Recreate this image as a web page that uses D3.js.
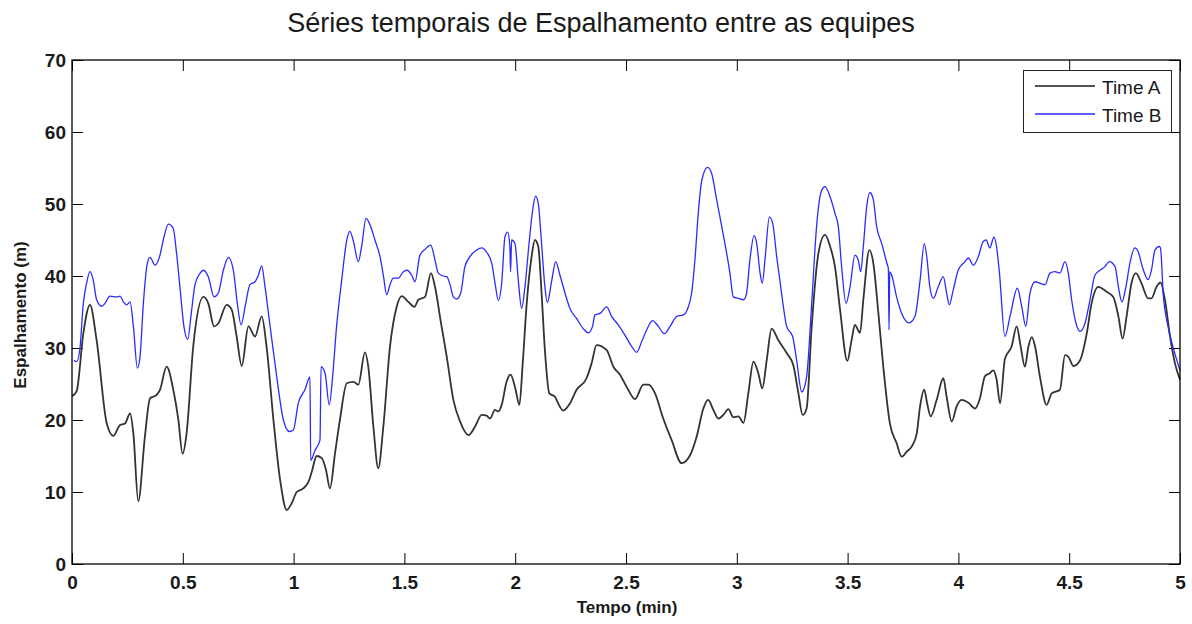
<!DOCTYPE html>
<html>
<head>
<meta charset="utf-8">
<script src="https://cdn.jsdelivr.net/npm/d3@7"></script>
<style>
  html, body { margin: 0; padding: 0; background: #fff; }
  svg { display: block; font-family: "Liberation Sans", Arial, sans-serif; }
</style>
</head>
<body>
<svg id="chart" width="1192" height="624"></svg>
<script>
// Time (min) and spread (m) samples for each team
const tempoA = [0.000,0.021,0.051,0.081,0.111,0.157,0.186,0.217,0.239,0.262,0.277,0.299,0.329,0.352,0.382,0.397,0.427,0.457,0.480,0.499,0.517,0.547,0.593,0.615,0.641,0.660,0.698,0.721,0.743,0.766,0.796,0.826,0.856,0.878,0.909,0.939,0.969,0.991,1.014,1.044,1.067,1.082,1.104,1.127,1.146,1.164,1.187,1.209,1.240,1.270,1.292,1.322,1.337,1.360,1.382,1.405,1.435,1.465,1.488,1.518,1.545,1.563,1.593,1.620,1.638,1.665,1.691,1.721,1.751,1.789,1.819,1.849,1.871,1.886,1.909,1.924,1.939,1.961,1.979,1.999,2.019,2.034,2.052,2.074,2.089,2.104,2.120,2.134,2.154,2.180,2.194,2.217,2.247,2.277,2.322,2.345,2.367,2.413,2.443,2.473,2.503,2.541,2.578,2.601,2.631,2.668,2.706,2.751,2.789,2.819,2.849,2.871,2.894,2.917,2.939,2.962,2.984,3.007,3.030,3.052,3.075,3.097,3.115,3.135,3.157,3.187,3.225,3.255,3.278,3.297,3.315,3.338,3.368,3.398,3.421,3.443,3.466,3.499,3.518,3.533,3.556,3.571,3.598,3.616,3.639,3.661,3.691,3.721,3.744,3.767,3.789,3.812,3.827,3.846,3.859,3.875,3.902,3.932,3.947,3.970,3.992,4.015,4.045,4.075,4.097,4.120,4.142,4.157,4.172,4.188,4.210,4.240,4.263,4.281,4.300,4.316,4.331,4.346,4.368,4.398,4.421,4.458,4.481,4.496,4.519,4.549,4.579,4.601,4.631,4.669,4.699,4.722,4.741,4.759,4.781,4.801,4.826,4.856,4.871,4.894,4.912,4.932,4.955,4.977,5.000];
const espalhamentoA = [23.3,24.0,32.0,36.0,31.1,19.5,17.8,19.3,19.5,20.9,18.1,8.7,17.7,23.0,23.5,24.2,27.4,24.2,20.0,15.3,18.1,30.2,37.1,36.2,33.0,33.4,36.0,35.3,31.6,27.5,33.0,31.6,34.4,30.2,20.0,11.7,7.5,8.4,10.0,10.5,11.4,12.8,15.0,14.7,13.1,10.5,15.4,20.0,25.1,25.3,24.9,29.4,27.4,19.1,13.3,19.1,30.2,35.7,37.2,36.4,35.7,36.7,37.1,40.4,38.5,33.5,28.8,22.8,19.8,17.9,19.1,20.7,20.6,20.2,21.4,21.2,22.1,25.3,26.3,24.6,22.1,27.9,36.2,42.7,45.0,44.1,37.1,29.7,23.7,23.2,22.3,21.3,22.3,24.2,25.8,27.9,30.4,29.7,27.4,26.3,24.6,22.9,24.9,24.9,23.7,20.2,17.2,14.0,15.1,17.7,21.6,22.8,21.4,20.2,20.7,21.5,20.4,20.5,19.6,23.7,28.1,26.5,24.4,28.3,32.7,31.1,29.3,27.6,23.7,20.7,21.6,33.0,43.1,45.7,44.1,41.3,35.3,28.2,31.1,33.2,32.1,36.7,43.6,41.8,34.8,27.4,19.5,16.8,14.9,15.6,16.3,18.1,21.9,24.2,22.3,20.5,22.8,25.8,23.2,19.8,21.9,22.8,22.4,21.6,23.0,26.1,26.5,26.9,25.7,22.3,28.5,30.2,33.0,30.2,27.4,30.2,31.5,30.2,26.0,22.1,23.7,24.2,29.0,28.8,27.5,28.3,32.0,36.2,38.5,37.8,37.1,34.4,31.3,34.4,39.0,40.4,39.0,36.9,36.9,38.5,39.1,36.7,31.6,27.9,25.6];

const tempoB = [0.009,0.021,0.036,0.051,0.066,0.081,0.096,0.111,0.134,0.149,0.171,0.202,0.217,0.232,0.247,0.262,0.277,0.295,0.307,0.322,0.340,0.352,0.375,0.397,0.412,0.435,0.457,0.472,0.487,0.505,0.522,0.540,0.555,0.578,0.593,0.615,0.641,0.660,0.683,0.706,0.728,0.748,0.763,0.781,0.803,0.826,0.841,0.856,0.871,0.894,0.924,0.954,0.981,0.999,1.021,1.051,1.074,1.077,1.097,1.119,1.124,1.142,1.161,1.176,1.194,1.217,1.240,1.254,1.270,1.292,1.307,1.327,1.345,1.367,1.390,1.405,1.420,1.435,1.450,1.473,1.495,1.513,1.533,1.548,1.570,1.593,1.619,1.638,1.653,1.675,1.691,1.706,1.721,1.736,1.754,1.773,1.796,1.826,1.849,1.871,1.894,1.909,1.924,1.939,1.954,1.966,1.976,1.979,1.984,1.999,2.014,2.029,2.044,2.064,2.079,2.092,2.104,2.119,2.134,2.145,2.165,2.183,2.202,2.225,2.247,2.277,2.307,2.330,2.349,2.360,2.383,2.413,2.435,2.465,2.495,2.526,2.548,2.571,2.593,2.620,2.646,2.673,2.699,2.729,2.759,2.781,2.796,2.811,2.826,2.842,2.868,2.886,2.909,2.932,2.954,2.969,2.984,3.007,3.030,3.044,3.059,3.078,3.090,3.105,3.115,3.127,3.147,3.162,3.180,3.202,3.225,3.252,3.270,3.293,3.315,3.338,3.360,3.383,3.398,3.421,3.443,3.458,3.473,3.493,3.511,3.533,3.548,3.559,3.571,3.586,3.601,3.616,3.631,3.654,3.677,3.684,3.687,3.690,3.699,3.721,3.744,3.778,3.804,3.827,3.846,3.859,3.871,3.887,3.909,3.932,3.947,3.959,3.977,3.999,4.030,4.045,4.067,4.090,4.112,4.125,4.142,4.160,4.172,4.185,4.210,4.233,4.266,4.286,4.304,4.323,4.346,4.368,4.391,4.413,4.436,4.458,4.481,4.496,4.511,4.531,4.549,4.571,4.594,4.616,4.639,4.661,4.681,4.707,4.722,4.738,4.756,4.774,4.796,4.811,4.830,4.856,4.871,4.887,4.906,4.912,4.924,4.946,4.968,5.000];
const espalhamentoB = [28.3,28.1,30.0,36.2,39.0,40.6,39.4,36.7,35.8,36.2,37.2,37.1,37.2,36.4,36.0,36.4,33.0,27.2,28.8,36.2,41.8,42.6,41.5,42.9,45.0,47.2,46.6,43.1,38.5,33.0,31.2,35.3,38.8,40.4,40.8,39.9,37.1,37.6,40.8,42.6,40.8,35.7,33.2,35.7,38.8,39.2,40.1,41.4,38.5,33.0,26.0,20.0,18.4,18.6,22.3,24.2,26.0,14.4,15.8,17.2,27.4,26.5,22.1,26.0,33.0,39.4,45.0,46.2,44.8,42.0,44.1,48.0,47.1,45.0,42.7,40.1,37.4,38.8,39.7,39.7,40.6,40.8,40.1,39.2,42.9,43.7,44.3,42.2,40.4,40.0,39.9,38.8,37.1,36.8,37.6,41.3,42.7,43.6,43.9,43.3,41.8,39.0,36.6,39.0,45.5,46.1,44.1,40.6,45.0,44.5,39.4,35.5,38.5,45.0,49.2,51.1,50.1,44.5,38.5,36.3,39.4,42.0,40.1,37.6,35.5,34.1,32.7,32.1,33.0,34.6,34.8,35.7,34.4,33.2,31.8,30.2,29.4,30.9,32.5,33.8,33.0,32.0,33.0,34.4,34.6,35.7,37.6,42.2,48.7,53.3,55.1,54.3,50.6,46.9,43.2,40.4,37.1,36.9,36.7,37.6,42.2,45.6,44.5,40.4,39.0,42.2,48.2,47.3,42.7,37.6,33.0,31.6,28.3,23.9,26.0,36.2,46.9,51.9,52.4,51.0,48.7,46.9,41.3,36.2,38.5,42.9,42.2,40.6,44.1,49.6,51.6,50.6,46.9,44.5,41.8,41.0,32.5,40.6,40.1,37.1,34.8,33.5,34.4,39.4,44.5,42.2,38.5,36.9,38.5,39.9,37.6,36.0,38.1,40.8,42.0,42.5,41.5,42.7,44.8,45.0,43.9,45.4,44.1,40.5,31.6,34.4,38.3,35.7,33.0,37.6,39.2,39.0,38.8,40.4,40.6,40.4,42.0,40.4,36.7,33.4,32.3,33.4,36.7,40.1,40.8,41.3,42.0,41.3,38.5,36.4,38.5,41.8,43.9,43.4,41.3,39.5,40.8,43.6,44.1,43.9,37.6,33.0,30.2,26.9];

const xTicks = [0, 0.5, 1, 1.5, 2, 2.5, 3, 3.5, 4, 4.5, 5];
const yTicks = [0, 10, 20, 30, 40, 50, 60, 70];
const seriesNames = ["Time A", "Time B"];
const seriesColors = ["#333333", "#2b2bff"];

const svg = d3.select("#chart");
const plotLeft = 72, plotRight = 1180, plotTop = 60, plotBottom = 564;

const x = d3.scaleLinear().domain([0, 5]).range([plotLeft, plotRight]);
const y = d3.scaleLinear().domain([0, 70]).range([plotBottom, plotTop]);

const textColor = "#1a1a1a";
const tickLen = 11;

// Title
svg.append("text")
  .attr("x", 601).attr("y", 32)
  .attr("text-anchor", "middle")
  .attr("font-size", 27)
  .attr("fill", textColor)
  .text("Séries temporais de Espalhamento entre as equipes");

// Axes with inward ticks on all four sides
function styleAxis(g, labels) {
  g.select(".domain").remove();
  g.selectAll(".tick line").attr("stroke", "#000").attr("stroke-width", 1);
  g.selectAll(".tick text")
    .attr("font-size", labels ? 19 : 0)
    .attr("font-weight", "bold")
    .attr("font-family", "\"Liberation Sans\", Arial, sans-serif")
    .attr("fill", textColor);
}

svg.append("g")
  .attr("transform", `translate(0,${plotBottom})`)
  .call(d3.axisBottom(x).tickValues(xTicks).tickSize(-tickLen).tickPadding(12)
    .tickFormat(d => String(d)))
  .call(g => styleAxis(g, true));

svg.append("g")
  .attr("transform", `translate(${plotLeft},0)`)
  .call(d3.axisLeft(y).tickValues(yTicks).tickSize(-tickLen).tickPadding(6)
    .tickFormat(d => String(d)))
  .call(g => styleAxis(g, true));

svg.append("g")
  .attr("transform", `translate(0,${plotTop})`)
  .call(d3.axisTop(x).tickValues(xTicks).tickSize(-tickLen).tickFormat(""))
  .call(g => styleAxis(g, false));

svg.append("g")
  .attr("transform", `translate(${plotRight},0)`)
  .call(d3.axisRight(y).tickValues(yTicks).tickSize(-tickLen).tickFormat(""))
  .call(g => styleAxis(g, false));

// Series lines
const line = d3.line()
  .x(d => x(d[0]))
  .y(d => y(d[1]))
  .curve(d3.curveMonotoneX);

const dataA = tempoA.map((t, i) => [t, espalhamentoA[i]]);
const dataB = tempoB.map((t, i) => [t, espalhamentoB[i]]);

svg.append("path")
  .datum(dataA)
  .attr("d", line)
  .attr("fill", "none")
  .attr("stroke", seriesColors[0])
  .attr("stroke-width", 1.8)
  .attr("stroke-linejoin", "round");

svg.append("path")
  .datum(dataB)
  .attr("d", line)
  .attr("fill", "none")
  .attr("stroke", seriesColors[1])
  .attr("stroke-width", 1.3)
  .attr("stroke-linejoin", "round");

// Frame
svg.append("rect")
  .attr("x", plotLeft).attr("y", plotTop)
  .attr("width", plotRight - plotLeft).attr("height", plotBottom - plotTop)
  .attr("fill", "none")
  .attr("stroke", "#000")
  .attr("stroke-width", 1.3);

// Axis titles
svg.append("text")
  .attr("x", 627).attr("y", 613)
  .attr("text-anchor", "middle")
  .attr("font-size", 17)
  .attr("font-weight", "bold")
  .attr("fill", textColor)
  .text("Tempo (min)");

svg.append("text")
  .attr("transform", "translate(26,315) rotate(-90)")
  .attr("text-anchor", "middle")
  .attr("font-size", 17)
  .attr("font-weight", "bold")
  .attr("fill", textColor)
  .text("Espalhamento (m)");

// Legend
const legend = svg.append("g");
legend.append("rect")
  .attr("x", 1023.5).attr("y", 70.5)
  .attr("width", 148).attr("height", 62)
  .attr("fill", "#fff")
  .attr("stroke", "#222")
  .attr("stroke-width", 1);

const legendY = [86, 114];
seriesNames.forEach((name, i) => {
  legend.append("line")
    .attr("x1", 1035).attr("x2", 1095)
    .attr("y1", legendY[i]).attr("y2", legendY[i])
    .attr("stroke", i === 0 ? "#555" : seriesColors[1])
    .attr("stroke-width", i === 0 ? 2 : 1.3);
  legend.append("text")
    .attr("x", 1102).attr("y", legendY[i] + 8)
    .attr("font-size", 19)
    .attr("fill", textColor)
    .text(name);
});
</script>
</body>
</html>
